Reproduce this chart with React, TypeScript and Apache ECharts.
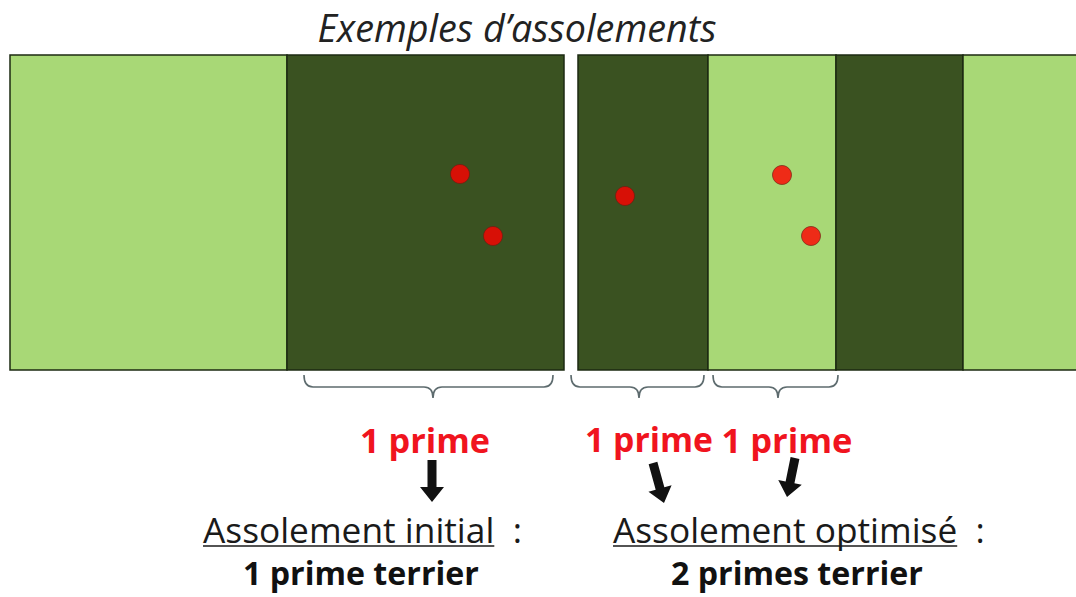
import React, { useEffect, useRef } from "react";
import * as echarts from "echarts";

// Field strips (x extents in plot units, crop type)
const stripStart = [10, 287, 578, 708, 836, 963];
const stripEnd = [287, 564, 708, 836, 963, 1082];
const stripCrop = ["light", "dark", "dark", "light", "dark", "light"];
const fieldTop = 55;
const fieldBottom = 370;

// Burrows (red points)
const burrowX = [460, 493, 625, 782, 811];
const burrowY = [174, 236, 196, 175, 236];

// Braces grouping the strips
const braceLeft = [304, 571, 713];
const braceRight = [553, 704, 838];
const braceTip = [433, 639, 778];

// Arrows
const arrowFromX = [432, 653, 795];
const arrowFromY = [460, 463, 458];
const arrowToX = [432, 664, 787];
const arrowToY = [502, 503, 497];

// Labels
const primeLabels = ["1 prime", "1 prime", "1 prime"];
const primeX = [425, 649, 787];
const primeW = [130, 128, 131];
const title = "Exemples d\u2019assolements";
const captionHead = ["Assolement initial", "Assolement optimisé"];
const captionHeadX = [203, 613];
const captionHeadW = [319, 372];
const captionResult = ["1 prime terrier", "2 primes terrier"];
const captionResultX = [243, 671];
const captionResultW = [236, 252];

const LIGHT = "#a8d876";
const DARK = "#3a5221";
const FAM = "'Open Sans'";
const FONT = "'Open Sans', 'Noto Sans', sans-serif";

function measure(text: string, font: string): number {
  const c = document.createElement("canvas").getContext("2d");
  if (!c) return text.length * 14;
  c.font = font;
  return c.measureText(text).width;
}
function fit(text: string, style: string, width: number): number {
  const base = 40;
  return (base * width) / measure(text, `${style} ${base}px ${FAM}`);
}

export default function App() {
  const ref = useRef<HTMLDivElement>(null);
  useEffect(() => {
    if (!ref.current) return;
    const chart = echarts.init(ref.current, undefined, { renderer: "svg" });

    const stripData = stripStart.map((s, i) => [s, stripEnd[i], stripCrop[i] === "light" ? 0 : 1]);
    const braceData = braceLeft.map((l, i) => [l, braceRight[i], braceTip[i]]);
    const arrowData = arrowFromX.map((x, i) => [x, arrowFromY[i], arrowToX[i], arrowToY[i]]);

    const graphics: any[] = [];
    const tSize = fit(title, "italic", 399);
    graphics.push({
      type: "text",
      x: 517,
      y: 27,
      style: { text: title, font: `italic ${tSize}px ${FONT}`, fill: "#222", align: "center", verticalAlign: "middle" },
    });
    primeLabels.forEach((t, i) => {
      const s = fit(t, "bold", primeW[i]);
      graphics.push({
        type: "text",
        x: primeX[i],
        y: 439,
        style: { text: t, font: `bold ${s}px ${FONT}`, fill: "#f0141e", align: "center", verticalAlign: "middle" },
      });
    });
    captionHead.forEach((t, i) => {
      const full = t + "  :";
      const s = fit(full, "normal", captionHeadW[i]);
      const wHead = measure(t, `normal ${s}px ${FAM}`);
      const x0 = captionHeadX[i];
      const y = 529;
      graphics.push({
        type: "text",
        x: x0,
        y,
        style: { text: full, font: `${s}px ${FONT}`, fill: "#1a1a1a", align: "left", verticalAlign: "middle" },
      });
      graphics.push({
        type: "line",
        shape: { x1: x0, y1: 546, x2: x0 + wHead, y2: 546 },
        style: { stroke: "#1a1a1a", lineWidth: 1.6 },
      });
      const rs = fit(captionResult[i], "bold", captionResultW[i]);
      graphics.push({
        type: "text",
        x: captionResultX[i],
        y: 572,
        style: {
          text: captionResult[i],
          font: `bold ${rs}px ${FONT}`,
          lineHeight: rs,
          fill: "#111",
          align: "left",
          verticalAlign: "middle",
        },
      });
    });

    chart.setOption({
      animation: false,
      backgroundColor: "#ffffff",
      grid: { left: 0, right: 0, top: 0, bottom: 0, containLabel: false },
      xAxis: { type: "value", min: 0, max: 1076, show: false },
      yAxis: { type: "value", min: 0, max: 597, inverse: true, show: false },
      series: [
        {
          type: "custom",
          data: stripData,
          renderItem: (params: any, api: any) => {
            const p0 = api.coord([api.value(0), fieldTop]);
            const p1 = api.coord([api.value(1), fieldBottom]);
            return {
              type: "rect",
              shape: { x: p0[0], y: p0[1], width: p1[0] - p0[0], height: p1[1] - p0[1] },
              style: { fill: api.value(2) === 0 ? LIGHT : DARK, stroke: "#1c2a12", lineWidth: 1.5 },
            };
          },
          z: 1,
        },
        {
          type: "scatter",
          data: burrowX.map((x, i) => [x, burrowY[i]]),
          symbol: "circle",
          symbolSize: 19,
          itemStyle: { color: "#ff0000", borderColor: "#6a1a10", borderWidth: 0.8 },
          z: 3,
        },
        {
          type: "custom",
          data: braceData,
          renderItem: (params: any, api: any) => {
            const a = api.coord([api.value(0), 375]);
            const b = api.coord([api.value(1), 375]);
            const m = api.coord([api.value(2), 387]);
            const t = api.coord([api.value(2), 398]);
            const r = 9;
            const yTop = a[1];
            const yMid = m[1];
            const d =
              `M${a[0]},${yTop} Q${a[0]},${yMid} ${a[0] + r},${yMid} ` +
              `L${m[0] - r},${yMid} Q${m[0]},${yMid} ${m[0]},${t[1]} ` +
              `Q${m[0]},${yMid} ${m[0] + r},${yMid} ` +
              `L${b[0] - r},${yMid} Q${b[0]},${yMid} ${b[0]},${yTop}`;
            return {
              type: "path",
              shape: { pathData: d },
              style: { fill: "none", stroke: "#5d6b6e", lineWidth: 1.6 },
            };
          },
          z: 2,
        },
        {
          type: "custom",
          data: arrowData,
          renderItem: (params: any, api: any) => {
            const s = api.coord([api.value(0), api.value(1)]);
            const e = api.coord([api.value(2), api.value(3)]);
            const dx = e[0] - s[0];
            const dy = e[1] - s[1];
            const len = Math.sqrt(dx * dx + dy * dy);
            const ux = dx / len;
            const uy = dy / len;
            const nx = -uy;
            const ny = ux;
            const hl = 15;
            const sw = 4.5;
            const hw = 12;
            const bx = e[0] - ux * hl;
            const by = e[1] - uy * hl;
            const pts = [
              [s[0] + nx * sw, s[1] + ny * sw],
              [bx + nx * sw, by + ny * sw],
              [bx + nx * hw, by + ny * hw],
              [e[0], e[1]],
              [bx - nx * hw, by - ny * hw],
              [bx - nx * sw, by - ny * sw],
              [s[0] - nx * sw, s[1] - ny * sw],
            ];
            return { type: "polygon", shape: { points: pts }, style: { fill: "#111" } };
          },
          z: 2,
        },
      ],
      graphic: graphics,
    });
    return () => chart.dispose();
  }, []);
  return (
    <div
      ref={ref}
      style={{ position: "absolute", left: 0, top: 0, width: 1076, height: 597, background: "#fff" }}
    />
  );
}
